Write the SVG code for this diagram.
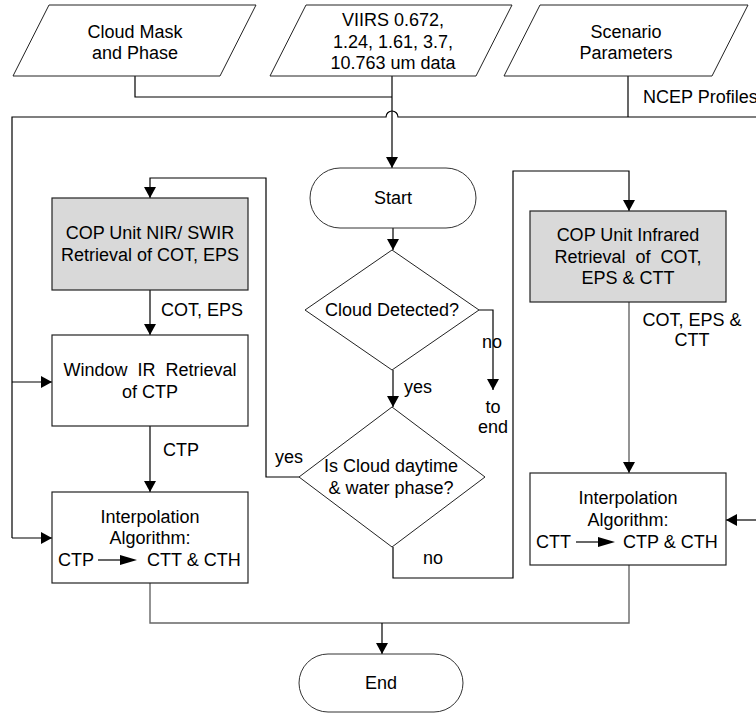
<svg xmlns="http://www.w3.org/2000/svg" width="756" height="715" viewBox="0 0 756 715">
  <defs>
    <marker id="arrow" markerUnits="userSpaceOnUse" markerWidth="12" markerHeight="12" refX="11" refY="6" orient="auto">
      <path d="M0,0 L11,6 L0,12 z" fill="#000"/>
    </marker>
    <style>
      text { font-family: "Liberation Sans", Arial, sans-serif; font-size: 18px; fill: #000; white-space: pre; }
      .c { text-anchor: middle; }
      .shape { fill: #fff; stroke: #222; stroke-width: 1; }
      .proc { fill: #fff; stroke: #222; stroke-width: 1.2; }
      .grey { fill: #d9d9d9; stroke: #222; stroke-width: 1.2; }
      .term { fill: #fff; stroke: #333; stroke-width: 1; }
      .ln { fill: none; stroke: #000; stroke-width: 1.2; }
      .lg { fill: none; stroke: #666; stroke-width: 1.4; }
      .ar { marker-end: url(#arrow); }
    </style>
  </defs>
  <rect width="756" height="715" fill="#fff"/>

  <!-- connectors -->
  <g id="connectors">
    <!-- cloud mask feed joins the VIIRS line -->
    <polyline class="ln" points="135,76 135,97 392,97"/>
    <!-- VIIRS data down to Start -->
    <polyline class="ln ar" points="392,76 392,168"/>
    <!-- NCEP profile bus, with a hop over the VIIRS line -->
    <polyline class="ln" points="628,76 628,117"/>
    <path class="ln" d="M756,117 L398,117 A6,6 0 0 0 386,117 L12,117 L12,538"/>
    <polyline class="ln ar" points="12,382 52,382"/>
    <polyline class="ln ar" points="12,538 52,538"/>
    <polyline class="ln ar" points="756,520 726,520"/>
    <!-- main flow -->
    <polyline class="ln ar" points="393,228 393,250"/>
    <polyline class="ln ar" points="479,310 493,310 493,390"/>
    <polyline class="ln ar" points="393,370 393,407"/>
    <polyline class="ln ar" points="299,477 266,477 266,178 150,178 150,198"/>
    <polyline class="ln ar" points="393,547 393,578 513,578 513,171 629,171 629,211"/>
    <!-- left column -->
    <polyline class="ln ar" points="150,290 150,335"/>
    <polyline class="ln ar" points="150,426 150,492"/>
    <!-- right column -->
    <polyline class="lg ar" points="629,302 629,473"/>
    <!-- merge to End -->
    <polyline class="lg" points="150,583 150,623 629,623 629,565"/>
    <polyline class="ln ar" points="382,623 382,654"/>
  </g>

  <!-- connector labels -->
  <g id="labels">
    <text x="161" y="316">COT, EPS</text>
    <text x="163" y="456">CTP</text>
    <text x="275" y="463">yes</text>
    <text x="482" y="348">no</text>
    <text class="c" x="493" y="413">to</text>
    <text class="c" x="493" y="433">end</text>
    <text x="404" y="393">yes</text>
    <text x="423" y="564">no</text>
    <text class="c" x="692" y="326">COT, EPS &amp;</text>
    <text class="c" x="692" y="346">CTT</text>
    <text x="643" y="103">NCEP Profiles</text>
  </g>

  <g id="cloud-mask">
    <polygon class="shape" points="49,5 256,5 220,76 13,76"/>
    <text class="c" x="135" y="38">Cloud Mask</text>
    <text class="c" x="135" y="59">and Phase</text>
  </g>

  <g id="viirs-data">
    <polygon class="shape" points="306,5 512,5 476,76 270,76"/>
    <text class="c" x="393" y="26">VIIRS 0.672,</text>
    <text class="c" x="393" y="48">1.24, 1.61, 3.7,</text>
    <text class="c" x="393" y="69">10.763 um data</text>
  </g>

  <g id="scenario">
    <polygon class="shape" points="540,5 748,5 712,76 504,76"/>
    <text class="c" x="626" y="38">Scenario</text>
    <text class="c" x="626" y="59">Parameters</text>
  </g>

  <g id="start">
    <rect class="term" x="310" y="168" width="166" height="60" rx="30" ry="30"/>
    <text class="c" x="393" y="204">Start</text>
  </g>

  <g id="cloud-detected">
    <polygon class="shape" points="392,250 479,310 392,370 305,310"/>
    <text class="c" x="392" y="316">Cloud Detected?</text>
  </g>

  <g id="daytime-water">
    <polygon class="shape" points="392,407 485,477 392,547 299,477"/>
    <text class="c" x="391" y="472">Is Cloud daytime</text>
    <text class="c" x="391" y="494">&amp; water phase?</text>
  </g>

  <g id="cop-nir-swir">
    <rect class="grey" x="52" y="198" width="196" height="92"/>
    <text class="c" x="150" y="239">COP Unit NIR/ SWIR</text>
    <text class="c" x="150" y="261">Retrieval of COT, EPS</text>
  </g>

  <g id="window-ir">
    <rect class="proc" x="52" y="335" width="196" height="91"/>
    <text class="c" x="150" y="376">Window  IR  Retrieval</text>
    <text class="c" x="150" y="398">of CTP</text>
  </g>

  <g id="interp-ctp">
    <rect class="proc" x="52" y="492" width="196" height="91"/>
    <text class="c" x="150" y="523">Interpolation</text>
    <text class="c" x="150" y="544">Algorithm:</text>
    <text x="58" y="566">CTP</text>
    <line x1="98" y1="560" x2="122" y2="560" stroke="#000" stroke-width="1.2"/>
    <polygon points="120,555 137,560 120,565" fill="#000"/>
    <text x="147" y="566">CTT &amp; CTH</text>
  </g>

  <g id="cop-infrared">
    <rect class="grey" x="530" y="211" width="196" height="91"/>
    <text class="c" x="628" y="241">COP Unit Infrared</text>
    <text class="c" x="628" y="263">Retrieval  of  COT,</text>
    <text class="c" x="628" y="284">EPS &amp; CTT</text>
  </g>

  <g id="interp-ctt">
    <rect class="proc" x="530" y="473" width="196" height="92"/>
    <text class="c" x="628" y="504">Interpolation</text>
    <text class="c" x="628" y="526">Algorithm:</text>
    <text x="536" y="548">CTT</text>
    <line x1="576" y1="542" x2="600" y2="542" stroke="#000" stroke-width="1.2"/>
    <polygon points="598,537 615,542 598,547" fill="#000"/>
    <text x="623" y="548">CTP &amp; CTH</text>
  </g>

  <g id="end">
    <rect class="term" x="299" y="654" width="164" height="58" rx="29" ry="29"/>
    <text class="c" x="381" y="689">End</text>
  </g>
</svg>
